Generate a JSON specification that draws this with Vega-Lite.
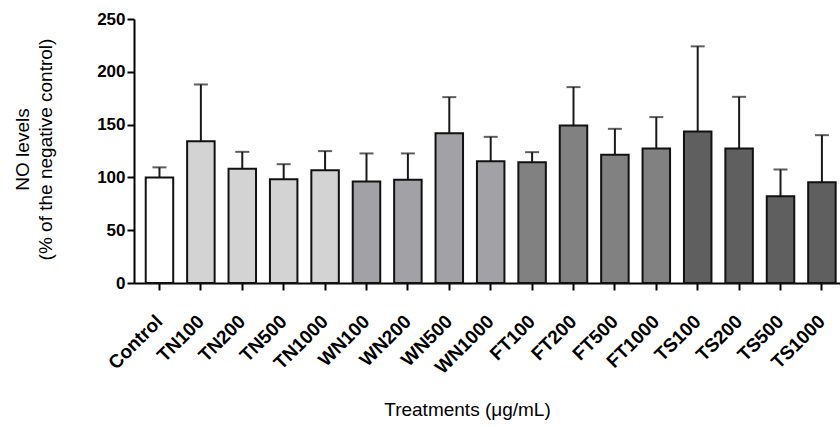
{
  "$schema": "https://vega.github.io/schema/vega-lite/v6.json",
  "width": 706,
  "height": 264,
  "autosize": {"type": "none"},
  "padding": {"left": 134, "top": 19, "right": 0, "bottom": 144},
  "background": "white",
  "config": {
    "view": {"stroke": null},
    "font": "Liberation Sans"
  },
  "data": {
    "values": [
      {"name": "Control", "group": "C", "value": 100, "upper": 109.5},
      {"name": "TN100", "group": "TN", "value": 134.3, "upper": 188},
      {"name": "TN200", "group": "TN", "value": 108.1, "upper": 124.2},
      {"name": "TN500", "group": "TN", "value": 98.3, "upper": 112.5},
      {"name": "TN1000", "group": "TN", "value": 106.8, "upper": 124.9},
      {"name": "WN100", "group": "WN", "value": 96.1, "upper": 122.7},
      {"name": "WN200", "group": "WN", "value": 97.7, "upper": 122.7},
      {"name": "WN500", "group": "WN", "value": 141.9, "upper": 176},
      {"name": "WN1000", "group": "WN", "value": 115.4, "upper": 138.4},
      {"name": "FT100", "group": "FT", "value": 114.4, "upper": 123.9},
      {"name": "FT200", "group": "FT", "value": 149.2, "upper": 185.5},
      {"name": "FT500", "group": "FT", "value": 121.4, "upper": 146},
      {"name": "FT1000", "group": "FT", "value": 127.4, "upper": 157.1},
      {"name": "TS100", "group": "TS", "value": 143.5, "upper": 224.1},
      {"name": "TS200", "group": "TS", "value": 127.4, "upper": 176.3},
      {"name": "TS500", "group": "TS", "value": 82.2, "upper": 107.5},
      {"name": "TS1000", "group": "TS", "value": 95.5, "upper": 140}
    ]
  },
  "encoding": {
    "x": {
      "field": "name", "type": "nominal", "sort": null,
      "scale": {"paddingInner": 0.336, "paddingOuter": 0.194, "align": 0.73},
      "axis": {
        "title": "Treatments (μg/mL)", "titleFontSize": 19, "titleFontWeight": "normal", "titleColor": "black",
        "titleX": 333, "titleY": 132, "titleBaseline": "alphabetic", "titleAlign": "center",
        "labelAngle": -45, "labelAlign": "right", "labelBaseline": "middle", "labelColor": "black",
        "labelFontSize": 19, "labelFontWeight": "bold", "labelPadding": 28, "labelDx": 4,
        "domainColor": "black", "domainWidth": 2, "tickColor": "black", "tickWidth": 2, "tickSize": 7, "grid": false
      }
    },
    "y": {
      "field": "value", "type": "quantitative",
      "scale": {"domain": [0, 250], "nice": false},
      "axis": {
        "title": ["NO levels", "(% of the negative control)"],
        "titleFontSize": 19, "titleFontWeight": "normal", "titleLineHeight": 23, "titleColor": "black",
        "titleX": -112, "titleY": 130, "titleAngle": -90, "titleAlign": "center", "titleBaseline": "middle",
        "values": [0, 50, 100, 150, 200, 250], "labelColor": "black",
        "labelFontSize": 17, "labelFontWeight": "bold", "labelPadding": 2,
        "domainColor": "black", "domainWidth": 2, "tickColor": "black", "tickWidth": 2, "tickSize": 7, "grid": false
      }
    }
  },
  "layer": [
    {
      "mark": {"type": "rule", "color": "#1a1a1a", "strokeWidth": 2},
      "encoding": {
        "y2": {"field": "upper"}
      }
    },
    {
      "mark": {"type": "tick", "color": "#1a1a1a", "thickness": 2, "size": 14},
      "encoding": {
        "y": {"field": "upper", "type": "quantitative"}
      }
    },
    {
      "mark": {"type": "bar", "stroke": "#111111", "strokeWidth": 2},
      "encoding": {
        "color": {
          "field": "group", "type": "nominal", "legend": null,
          "scale": {"domain": ["C", "TN", "WN", "FT", "TS"], "range": ["#ffffff", "#d3d3d3", "#a2a2a6", "#818181", "#5f5f5f"]}
        }
      }
    }
  ]
}
